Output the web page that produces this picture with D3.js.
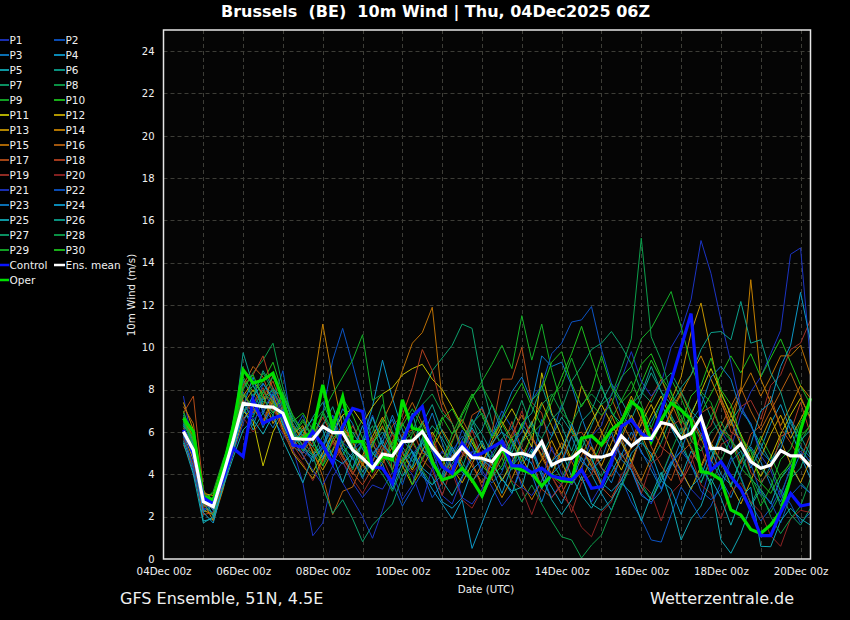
<!DOCTYPE html>
<html><head><meta charset="utf-8">
<script src="https://cdn.jsdelivr.net/npm/d3@7"></script>
<style>
html,body{margin:0;padding:0;background:#000}
svg{display:block}
text{font-family:"DejaVu Sans",sans-serif}
</style>
</head><body>
<svg id="chart" width="850" height="620"></svg>
<script>
// ---------------- DATA ----------------
const runStart = Date.UTC(2025, 11, 4, 6);          // 04Dec2025 06Z
const leadHours = d3.range(6, 385, 6);               // +6h .. +384h
const xTickLabels = ["04Dec 00z","06Dec 00z","08Dec 00z","10Dec 00z","12Dec 00z","14Dec 00z","16Dec 00z","18Dec 00z","20Dec 00z"];
const yTicks = [0,2,4,6,8,10,12,14,16,18,20,22,24];

const P1 = [7.7,5.2,2.4,2.2,3.6,5.0, 6.4,7.8,7.0,6.6,5.9, 5.2,3.6,1.1,1.7,3.9,4.6,3.6,2.9,3.5, 3.3,4.1,2.8,3.5,5.2,4.4,3.0,2.6,3.8,5.1,4.2,3.4,2.5,3.1,4.6,5.4,4.0,2.9,3.6,4.8,3.9,2.7, 3.5,4.4,5.6,4.2,3.1,2.6,3.9,5.0,4.1,3.3,2.8,4.5,6.1,5.2,6.8,7.9,8.6,9.7,10.8,14.4,14.7,9.3];
const P2 = [6.4,4.6,2.9,2.4,3.8,5.9, 7.9,6.8,8.3,7.5,8.9, 6.0,6.8,5.5,6.9,9.4,10.9,9.2,7.4,5.6, 4.2,3.6,2.5,3.3,4.1,2.9,3.6,4.8,6.1,5.3,4.4,5.9,7.0,6.2,5.1,4.5,6.6,5.8,7.3,6.1,5.2,4.3, 3.6,4.5,3.8,2.7,1.9,0.9,0.8,2.1,3.4,2.7,1.9,2.5,3.6,4.8,3.9,2.6,1.8,2.4,3.3,2.6,1.7,2.2];
const P3 = [5.8,4.1,2.2,2.6,4.2,5.3, 6.9,7.5,6.2,7.4,6.6, 5.3,5.0,6.3,4.8,5.9,7.1,6.4,5.2,4.6, 5.8,6.6,5.1,4.3,5.7,6.9,5.5,4.2,4.9,6.3,7.2,5.8,6.7,7.9,8.6,7.4,9.6,9.1,9.3,8.2,6.7,5.4, 4.3,3.6,4.9,6.0,5.1,4.2,3.3,4.4,5.6,6.8,5.9,4.7,3.8,2.9,4.1,5.3,4.6,3.5,2.7,3.9,5.0,4.2];
const P4 = [6.2,5.4,3.0,2.0,3.7,5.5, 7.1,6.3,7.6,8.0,7.0, 5.9,5.4,4.6,5.3,6.2,5.1,4.3,5.6,7.2, 9.4,7.6,6.1,5.0,4.1,3.3,2.6,1.9,2.8,0.5,1.7,2.9,3.8,3.1,4.4,5.2,4.1,3.4,2.6,3.7,4.8,4.0, 3.1,2.3,3.5,4.6,5.7,6.5,7.4,6.2,5.3,4.5,3.6,4.8,5.9,6.6,5.5,4.3,5.2,6.4,7.3,6.1,4.9,3.8];
const P5 = [5.6,4.4,1.8,1.9,3.4,5.2, 7.2,6.1,6.9,7.8,6.3, 5.4,6.1,5.6,4.7,5.9,6.8,5.3,4.1,4.9, 5.6,4.7,3.9,4.8,5.5,4.6,3.8,4.5,5.3,6.2,5.4,4.6,3.7,4.5,5.6,6.5,5.2,4.3,5.1,3.9,3.0,2.4, 3.2,4.1,5.0,4.2,3.4,2.8,3.7,4.6,3.9,5.1,4.4,3.6,0.9,0.27,1.2,2.5,3.3,2.6,3.8,4.4,3.6,3.1];
const P6 = [6.8,5.6,2.6,2.9,4.4,6.1, 8.5,7.6,8.9,8.1,7.3, 6.2,5.8,6.7,7.4,6.3,5.5,6.0,5.2,4.4, 5.1,6.0,5.3,4.6,5.5,6.3,5.7,4.8,5.6,6.6,5.9,5.0,4.2,5.3,6.4,5.7,4.9,5.8,6.7,6.0,5.2,6.3, 7.4,8.3,7.5,6.6,7.7,8.8,7.9,6.8,5.9,6.9,7.8,6.7,5.8,6.5,7.2,6.3,5.4,4.6,5.5,6.6,5.8,4.9];
const P7 = [6.0,4.9,2.5,2.7,4.1,5.7, 7.6,8.2,7.3,6.8,7.9, 6.4,5.6,4.9,5.8,6.6,5.4,4.7,5.5,6.3, 5.0,4.2,5.4,6.7,7.8,8.9,9.5,10.1,11.1,10.9,8.3,6.5,5.2,4.3,5.6,6.4,5.3,4.6,3.8,4.9,5.8,4.7, 3.9,4.8,5.9,6.8,5.7,4.6,5.5,6.7,5.6,4.4,3.6,4.7,5.8,4.9,3.8,2.6,3.5,4.4,3.2,2.1,1.6,2.4];
const P8 = [6.5,5.3,2.8,2.3,4.0,6.3, 8.0,8.8,9.4,10.2,8.1, 6.7,6.0,5.1,4.4,5.2,6.1,5.0,3.9,4.6, 4.0,3.2,4.3,5.1,4.2,3.5,4.4,5.3,4.6,3.8,2.9,3.9,4.8,3.6,2.7,3.5,2.6,1.8,1.05,0.9,0.05,0.66, 1.13,2.3,3.4,4.5,3.6,2.8,3.9,5.1,6.2,5.3,4.4,3.5,4.6,5.7,4.8,3.9,3.0,2.2,3.1,4.2,5.3,4.5];
const P9 = [6.3,5.0,2.9,3.1,4.5,5.4, 6.9,7.4,8.0,7.1,6.5, 5.8,6.5,5.7,6.9,5.8,4.9,5.7,6.6,5.5, 6.2,5.4,6.3,7.1,6.2,5.1,4.3,5.5,6.8,7.6,8.4,9.2,10.1,9.0,11.5,9.4,11.1,8.9,7.3,6.1,5.2,4.4, 5.5,6.6,7.5,8.4,7.3,6.2,7.4,8.5,7.6,6.5,5.6,6.7,7.8,6.9,5.8,4.7,5.8,4.9,3.8,4.6,5.5,6.4];
const P10 = [7.0,5.6,3.2,2.8,4.3,6.5, 8.6,7.9,8.4,9.3,7.8, 6.5,6.9,6.1,5.4,6.5,7.6,6.8,5.7,5.0, 4.6,5.5,6.4,5.6,4.7,5.8,6.7,5.9,6.9,7.8,6.8,5.7,6.6,7.5,8.3,7.2,6.3,7.4,8.6,9.7,11.0,9.5, 8.1,7.0,6.1,7.2,8.3,9.4,8.5,7.6,6.7,5.8,6.9,7.8,8.7,9.6,8.8,9.7,8.6,9.5,10.4,9.3,8.2,7.3];
const P11 = [6.1,5.1,2.6,2.4,3.9,5.6, 7.0,6.5,4.4,6.0,6.9, 5.6,4.9,4.1,5.0,6.0,6.8,7.1,6.4,7.2, 7.8,8.1,8.7,9.0,9.2,8.5,8.0,7.2,6.3,5.5,4.6,5.4,6.3,7.1,6.2,5.3,8.8,6.9,5.8,4.7,5.6,6.5, 7.3,6.4,5.5,4.6,5.8,6.8,7.7,6.6,5.7,6.8,7.9,9.0,7.9,6.8,5.9,4.8,3.9,4.8,5.9,6.8,7.6,6.7];
const P12 = [5.9,4.7,2.3,2.1,3.6,5.1, 6.6,7.2,6.4,7.5,6.1, 5.0,4.4,3.8,4.7,5.6,4.8,4.0,4.9,5.8, 6.7,5.9,5.0,4.2,5.1,6.0,5.2,4.3,3.6,4.5,5.4,4.6,3.7,4.6,5.5,6.4,7.4,6.3,5.2,6.2,8.2,7.1, 6.0,5.1,4.2,5.3,6.4,7.3,6.2,5.1,4.2,3.3,4.4,5.5,4.6,3.5,2.6,3.7,4.8,5.9,6.8,5.7,6.6,7.5];
const P13 = [7.4,6.1,3.1,3.0,4.6,6.0, 7.7,8.4,7.8,6.4,7.2, 5.9,6.3,5.0,4.2,5.1,6.2,5.6,4.5,3.8, 4.5,5.3,4.4,3.5,4.3,5.2,6.1,5.3,4.4,3.6,4.5,5.6,6.5,5.7,4.8,3.9,4.7,5.6,4.6,3.5,4.4,5.3, 4.4,5.5,6.6,7.7,6.6,5.5,6.4,7.5,8.6,10.7,12.1,9.8,7.6,6.5,5.4,4.5,5.6,6.7,5.6,4.5,3.6,4.7];
const P14 = [6.7,5.5,2.7,1.8,3.3,5.4, 7.3,8.0,7.2,8.7,7.5, 6.3,5.6,8.0,11.1,8.5,6.2,5.3,4.4,5.4, 6.3,5.2,4.5,5.4,6.5,5.6,4.7,3.9,4.8,5.7,4.6,3.8,2.9,3.8,4.9,5.8,4.9,4.0,5.1,6.2,5.3,4.4, 3.5,4.6,5.7,6.8,5.9,4.8,5.9,6.9,7.8,8.7,9.6,8.5,7.4,6.3,8.0,13.2,8.5,7.4,6.3,7.2,8.2,7.6];
const P15 = [6.6,5.8,2.5,2.5,4.2,5.8, 7.8,7.1,6.5,7.7,6.7, 5.5,6.2,5.3,4.6,5.5,6.4,5.5,4.7,5.6, 6.5,7.5,8.9,10.2,10.7,11.9,7.5,6.4,5.3,4.4,3.6,4.5,5.4,4.5,3.6,2.8,3.7,4.6,5.5,4.6,3.7,4.8, 5.9,6.8,5.7,4.6,3.7,4.8,5.9,7.0,7.9,6.8,5.7,4.6,5.7,6.8,7.9,8.8,7.7,8.6,9.6,9.6,10.1,8.7];
const P16 = [7.2,6.4,3.0,2.6,4.1,6.2, 8.2,9.1,8.6,7.3,6.2, 5.2,5.9,5.1,3.9,2.1,3.2,3.4,4.5,5.4, 4.7,5.6,6.5,7.4,6.4,5.5,4.7,5.6,6.6,5.7,4.8,3.9,4.8,5.9,6.8,5.8,4.8,3.9,3.1,4.0,4.9,5.8, 6.7,7.6,6.5,5.6,6.7,7.6,8.5,7.4,6.3,5.2,4.3,5.4,6.3,7.2,8.1,7.0,6.1,7.0,7.9,8.8,7.7,6.6];
const P17 = [6.9,7.7,3.3,2.3,3.7,5.6, 7.5,6.9,7.7,8.4,7.1, 6.0,5.4,6.2,5.3,4.5,5.4,6.3,5.4,4.6, 5.4,4.2,5.9,6.1,5.0,4.8,3.5,4.9,5.2,6.8,7.1,6.0,8.5,8.5,10.0,7.4,6.9,5.1,4.7,5.8,6.0,5.2, 4.3,3.9,4.8,5.2,6.7,5.3,4.4,3.7,5.0,5.5,6.9,7.2,6.1,5.8,4.5,5.9,6.3,7.7,6.2,5.5,4.7,5.9];
const P18 = [5.4,4.3,2.1,2.2,3.5,5.0, 8.2,8.7,9.6,8.0,6.8, 5.6,5.0,5.8,6.7,5.8,4.9,4.1,3.5,4.3, 5.2,6.3,6.8,8.1,9.9,8.9,7.1,6.4,5.0,4.6,3.4,4.7,5.1,6.5,5.2,4.8,3.3,2.9,3.5,4.7,5.1,4.6, 3.4,2.9,3.8,4.4,5.9,6.2,5.3,4.9,3.6,4.5,5.9,6.3,7.6,6.0,5.7,4.1,3.6,4.2,5.8,6.0,7.4,5.9];
const P19 = [6.2,5.2,2.4,2.9,4.4,5.5, 7.0,7.3,8.1,7.0,6.5, 5.4,4.7,5.5,6.4,5.6,4.8,4.0,4.8,5.7, 4.8,3.7,5.0,5.5,4.7,4.2,3.0,4.4,4.9,6.1,4.8,4.3,5.2,5.7,7.0,5.6,5.2,3.9,3.5,2.2,3.6,4.0, 5.3,5.8,4.9,4.4,3.1,4.5,4.9,6.3,6.6,5.8,5.3,3.9,5.4,5.7,7.2,7.5,6.6,8.2,8.7,9.9,10.2,11.3];
const P20 = [5.7,4.5,2.6,2.4,3.9,5.3, 6.7,6.0,6.6,7.2,6.0, 5.1,4.5,3.7,4.6,5.5,4.6,3.8,3.1,3.9, 4.8,5.9,4.6,4.1,4.6,5.9,4.5,4.1,2.8,2.4,3.3,3.8,5.1,3.7,3.3,2.1,3.4,3.9,3.0,2.5,1.5,1.05, 2.2,2.7,4.0,4.5,3.6,3.1,1.8,3.1,3.6,4.9,3.5,3.1,1.9,3.2,3.6,2.7,2.2,1.1,0.6,1.9,2.3,2.2];
const P21 = [6.1,4.8,2.7,2.4,4.0,5.8, 7.4,6.6,7.0,7.9,6.8, 5.7,4.9,4.2,3.5,4.4,3.6,2.8,2.0,0.98, 2.3,3.8,4.5,4.0,2.7,4.3,5.1,4.4,2.9,2.6,3.3,5.0,5.7,4.9,3.4,3.0,3.7,5.3,4.0,3.5,4.2,5.8, 6.3,7.8,8.5,9.8,8.4,7.7,8.3,10.0,10.8,12.25,15.05,13.5,11.3,9.3,7.2,6.4,4.9,4.2,2.9,4.4,5.1,4.6];
const P22 = [5.9,4.3,2.3,2.7,4.3,5.6, 6.6,7.0,7.6,6.9,7.4, 6.1,5.1,4.7,5.3,6.8,5.5,5.1,5.6,6.8, 5.4,4.8,3.5,4.9,5.6,5.1,3.8,5.1,5.8,5.3,4.0,3.6,4.1,5.4,6.0,7.5,8.2,9.7,10.2,11.2,11.3,11.93, 9.9,8.3,6.8,6.3,5.0,4.5,3.3,4.6,5.1,4.5,3.2,2.8,3.3,4.6,5.1,4.5,3.1,2.7,1.7,3.0,3.5,3.1];
const P23 = [6.3,5.7,2.9,2.3,3.8,5.2, 7.2,8.6,6.9,6.2,7.1, 5.9,5.2,4.8,5.2,6.5,5.2,4.8,3.8,5.0, 5.5,6.8,5.6,5.1,3.9,3.5,4.0,5.3,4.1,3.7,4.2,5.5,6.0,5.6,4.4,4.0,2.7,4.0,4.5,5.8,4.6,4.2, 4.7,6.0,4.7,4.2,3.0,2.7,3.2,4.5,5.1,6.5,7.2,8.6,9.1,8.5,7.0,6.4,5.1,4.6,5.2,6.6,5.3,4.8];
const P24 = [6.0,4.9,2.2,1.7,3.5,5.1, 6.9,7.7,8.3,7.6,6.4, 5.3,6.1,6.6,6.1,4.8,4.5,5.0,6.3,5.0, 4.5,3.3,4.6,5.1,4.3,3.9,2.7,2.4,2.9,4.2,4.7,4.3,3.1,4.4,4.9,4.5,3.3,4.6,5.1,6.4,5.2,4.8, 3.6,3.2,3.7,5.0,5.5,5.0,3.7,3.3,2.1,3.4,3.9,5.2,4.0,3.5,4.7,5.4,7.0,7.4,9.1,10.1,12.6,10.3];
const P25 = [5.5,4.0,1.7,2.0,3.4,4.8, 6.1,6.6,5.9,6.8,5.6, 4.6,3.6,4.9,5.4,4.9,3.6,4.9,5.4,6.7, 5.4,4.9,5.7,6.9,5.2,4.6,3.7,3.0,3.9,4.8,5.6,4.5,3.8,3.2,3.4,5.1,3.9,2.8,2.1,2.8,3.9,2.6, 2.3,2.8,3.6,3.1,1.8,3.0,4.1,2.7,0.9,1.9,2.5,3.8,2.9,1.6,2.9,3.4,0.6,0.58,1.8,2.4,1.9,1.6];
const P26 = [6.6,5.4,2.8,2.6,4.2,6.0, 9.75,8.2,7.4,8.0,7.7, 6.6,5.8,5.3,6.3,7.2,5.9,5.1,4.6,5.5, 6.0,5.2,4.6,5.5,6.4,7.3,6.0,5.1,4.3,5.6,6.1,7.3,6.0,5.0,6.4,6.9,8.2,6.8,6.3,5.1,6.5,7.0, 8.2,6.9,6.4,7.3,7.8,9.1,7.9,7.3,8.1,8.7,9.9,10.7,10.75,10.36,12.17,10.2,10.36,8.8,7.9,6.4,5.6,6.1];
const P27 = [6.4,5.5,2.6,2.1,3.8,5.3, 7.3,6.7,7.9,8.6,7.6, 6.2,5.3,4.9,3.4,2.16,2.8,1.9,0.82,1.6, 2.1,2.6,3.9,4.4,5.7,4.4,3.9,4.8,5.3,6.6,5.3,4.8,5.7,6.2,7.5,6.2,5.7,6.6,7.1,8.4,9.1,9.9, 10.2,10.75,10.07,9.2,7.9,7.4,8.3,8.8,7.9,7.0,6.5,5.2,4.7,3.4,4.7,5.2,4.3,3.8,2.5,3.8,4.3,5.6];
const P28 = [6.9,5.9,3.1,2.7,4.5,6.4, 8.4,7.7,8.8,7.9,7.2, 6.0,5.1,6.4,7.0,6.0,5.5,4.2,5.5,6.0, 7.3,6.0,5.5,6.0,7.3,7.8,6.9,6.4,5.1,6.4,6.9,6.0,5.5,4.2,5.5,6.0,7.3,7.8,6.9,6.4,7.3,7.8, 7.3,7.7,9.0,10.4,15.16,10.5,9.4,7.8,7.1,5.6,5.1,6.0,6.5,5.6,5.1,3.8,3.3,2.0,1.2,1.9,2.5,3.8];
const P29 = [6.7,5.1,2.7,3.2,4.7,5.9, 7.8,7.2,7.9,7.4,6.6, 5.9,6.6,5.8,6.9,7.8,8.6,9.4,10.6,7.5, 7.8,4.1,4.6,5.9,6.4,5.5,4.6,5.9,6.4,7.7,8.2,7.3,6.4,5.5,4.6,5.9,6.4,7.7,8.2,9.5,8.2,7.3, 6.8,7.3,8.6,9.1,10.4,10.9,11.77,12.64,10.98,9.2,7.9,7.4,6.1,5.6,4.3,3.8,2.5,3.4,4.7,5.2,6.5,7.0];
const P30 = [6.5,5.7,3.0,2.5,4.0,6.0, 8.1,8.7,7.6,6.9,7.8, 6.8,6.0,5.6,4.4,5.7,6.2,5.3,4.8,5.3, 6.6,5.3,4.8,3.5,4.8,5.3,6.6,7.1,6.2,5.7,4.4,3.9,4.4,5.7,6.2,7.5,8.0,9.3,9.8,8.3,7.2,8.0, 9.6,8.1,7.4,7.9,9.2,9.7,8.6,7.9,6.4,7.7,8.2,9.5,8.0,7.3,5.8,5.1,3.6,3.1,4.0,4.5,5.8,6.3];

const control = [6.1,5.0,2.9,2.6,3.8,5.23, 4.84,7.52,6.41,6.65,6.81, 5.39,5.28,6.02,5.39,4.52,6.26,7.12,6.97,4.36, 4.29,3.58,5.47,6.73,7.2,5.31,4.36,4.05,5.47,4.84,5.0,5.28,5.55,4.4,4.4,4.08,4.29,3.92,3.81,3.74,4.21,3.34, 3.42,4.6,6.26,6.57,5.94,5.63,7.0,8.4,10.0,11.6,6.5,4.2,4.6,3.9,3.3,2.3,1.1,1.1,2.2,3.1,2.5,2.6];
const oper = [6.65,6.02,2.95,2.79,4.36,6.26, 8.94,8.31,8.46,8.78,7.52, 5.7,5.7,6.02,8.23,6.18,7.67,5.55,5.55,4.21, 4.84,4.68,7.52,6.18,6.07,4.6,3.74,3.89,4.29,3.74,2.98,4.13,5.23,4.36,4.21,4.05,3.45,3.97,3.7,3.66,5.7,5.82, 5.39,6.1,6.49,7.44,7.04,5.55,6.57,7.36,7.04,6.57,4.13,4.05,3.74,2.32,2.08,1.4,1.21,1.61,2.24,3.81,6.1,7.6];
const ensMean = [6.02,5.15,2.71,2.47,4.0,5.6, 7.36,7.28,7.2,7.18,6.89, 5.7,5.66,5.66,6.26,5.97,5.97,5.15,4.76,4.29, 4.96,4.87,5.55,5.58,6.02,5.28,4.71,4.71,5.28,4.79,4.76,4.6,5.23,4.92,5.0,4.84,5.55,4.44,4.68,4.76,5.15,4.84, 4.81,4.96,5.82,5.34,5.7,5.7,6.45,6.34,5.7,5.94,6.7,5.23,5.23,5.0,5.44,4.6,4.29,4.44,5.12,4.87,4.87,4.36];

const memberNames = d3.range(1, 31).map(i => "P" + i);
const members = [P1,P2,P3,P4,P5,P6,P7,P8,P9,P10,P11,P12,P13,P14,P15,P16,P17,P18,P19,P20,P21,P22,P23,P24,P25,P26,P27,P28,P29,P30];
const paletteCycle = ["#1c34c4","#0c54c4","#0c7cc8","#0c98c8","#10a8b4","#0ca08c","#0ca06c","#0ca04c","#14b028","#1cc01c",
                      "#c4c000","#c4a800","#c49400","#c48000","#bc7004","#b46010","#b44c18","#b44020","#a03028","#902424"];
const memberColors = memberNames.map((n, i) => paletteCycle[i % 20]);

// ---------------- CHART ----------------
const svg = d3.select("#chart");
svg.append("rect").attr("width", 850).attr("height", 620).attr("fill", "#000");

const times = leadHours.map(h => new Date(runStart + h * 3600e3));
const x = d3.scaleUtc().domain([new Date(Date.UTC(2025,11,4,0)), new Date(Date.UTC(2025,11,20,6))]).range([163.5, 810.5]);
const y = d3.scaleLinear().domain([0, 25]).range([559, 30]);

const plot = svg.append("g");
plot.append("rect").attr("x", x.range()[0]).attr("y", y(25)).attr("width", x.range()[1]-x.range()[0])
  .attr("height", y(0)-y(25)).attr("fill", "#050505");

// grid
const dayLines = d3.utcDay.range(new Date(Date.UTC(2025,11,5)), new Date(Date.UTC(2025,11,20,1)));
plot.selectAll(".vg").data(dayLines).join("line")
  .attr("x1", d => Math.round(x(d)) + 0.5).attr("x2", d => Math.round(x(d)) + 0.5)
  .attr("y1", y(25)).attr("y2", y(0))
  .attr("stroke", "#3d3d37").attr("stroke-width", 1).attr("stroke-dasharray", "4,3");
plot.selectAll(".hg").data(yTicks.filter(v => v > 0)).join("line")
  .attr("x1", x.range()[0]).attr("x2", x.range()[1])
  .attr("y1", d => Math.round(y(d)) + 0.5).attr("y2", d => Math.round(y(d)) + 0.5)
  .attr("stroke", "#3d3d37").attr("stroke-width", 1).attr("stroke-dasharray", "4,3");

const line = d3.line().x((d, i) => x(times[i])).y(d => y(d));

plot.selectAll(".member").data(members).join("path")
  .attr("fill", "none").attr("stroke", (d, i) => memberColors[i]).attr("stroke-width", 1)
  .attr("stroke-linejoin", "miter").attr("d", d => line(d));

plot.append("path").attr("fill", "none").attr("stroke", "#00e000").attr("stroke-width", 3.2).attr("d", line(oper));
plot.append("path").attr("fill", "none").attr("stroke", "#0a14ff").attr("stroke-width", 3.2).attr("d", line(control));
plot.append("path").attr("fill", "none").attr("stroke", "#ffffff").attr("stroke-width", 3.2).attr("d", line(ensMean));

// frame
svg.append("rect").attr("x", x.range()[0]).attr("y", y(25)).attr("width", x.range()[1]-x.range()[0])
  .attr("height", y(0)-y(25)).attr("fill", "none").attr("stroke", "#e6e6e6").attr("stroke-width", 1.5);

// axes
const xTickDates = xTickLabels.map((s, i) => new Date(Date.UTC(2025, 11, 4 + 2*i)));
const xAxis = d3.axisBottom(x).tickValues(xTickDates).tickSize(0).tickPadding(9)
  .tickFormat((d, i) => xTickLabels[i]);
const gx = svg.append("g").attr("transform", `translate(0,${y(0)})`).call(xAxis);
gx.select(".domain").remove();
gx.selectAll("text").attr("fill", "#f0f0f0").attr("font-size", 10.3).attr("font-family", "DejaVu Sans");

const yAxis = d3.axisLeft(y).tickValues(yTicks).tickSize(0).tickPadding(9).tickFormat(d3.format("d"));
const gy = svg.append("g").attr("transform", `translate(${x.range()[0]},0)`).call(yAxis);
gy.select(".domain").remove();
gy.selectAll("text").attr("fill", "#f0f0f0").attr("font-size", 10).attr("font-family", "DejaVu Sans");

svg.append("text").attr("x", 486).attr("y", 593).attr("text-anchor", "middle")
  .attr("fill", "#f0f0f0").attr("font-size", 10.3).text("Date (UTC)");
svg.append("text").attr("transform", "translate(135,295) rotate(-90)").attr("text-anchor", "middle")
  .attr("fill", "#f0f0f0").attr("font-size", 10.3).text("10m Wind (m/s)");

// title and footer
svg.append("text").attr("x", 435.5).attr("y", 17).attr("text-anchor", "middle")
  .attr("fill", "#ffffff").attr("font-size", 16).attr("font-weight", "bold")
  .style("white-space", "pre").text("Brussels  (BE)  10m Wind | Thu, 04Dec2025 06Z");
svg.append("text").attr("x", 120).attr("y", 604).attr("fill", "#f0f0f0").attr("font-size", 16)
  .text("GFS Ensemble, 51N, 4.5E");
svg.append("text").attr("x", 650).attr("y", 604).attr("fill", "#f0f0f0").attr("font-size", 16)
  .text("Wetterzentrale.de");

// legend
const legendItems = memberNames.map((n, i) => ({name: n, color: memberColors[i], w: 1.8}))
  .concat([{name: "Control", color: "#0a14ff", w: 2.5}, {name: "Ens. mean", color: "#ffffff", w: 2.5}, {name: "Oper", color: "#00e000", w: 2.5}]);
const lg = svg.append("g");
legendItems.forEach((it, i) => {
  const col = i % 2, row = Math.floor(i / 2);
  const yy = 40 + row * 15;
  const x0 = col === 0 ? 0 : 54, x1 = col === 0 ? 9 : 65;
  lg.append("line").attr("x1", x0).attr("x2", x1).attr("y1", yy).attr("y2", yy)
    .attr("stroke", it.color).attr("stroke-width", it.w);
  lg.append("text").attr("x", x1 + 0.5).attr("y", yy + 4).attr("fill", "#f0f0f0")
    .attr("font-size", 10.5).text(it.name);
});
</script>
</body></html>
